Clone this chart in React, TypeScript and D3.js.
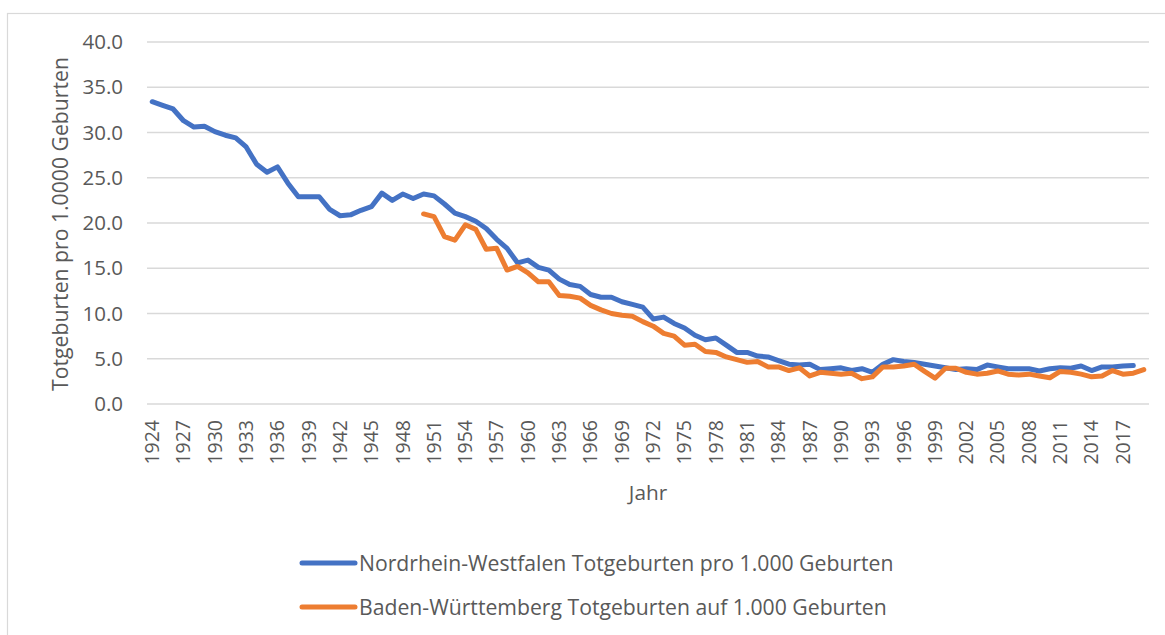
import React from "react";
import * as d3 from "d3";

const years: number[] = d3.range(1924, 2020);

const nrwValues: (number | null)[] = [
  33.4, 33.0, 32.6, 31.3, 30.6, 30.7, 30.1, 29.7, 29.4, 28.4,
  26.5, 25.6, 26.2, 24.4, 22.9, 22.9, 22.9, 21.5, 20.8, 20.9,
  21.4, 21.8, 23.3, 22.5, 23.2, 22.7, 23.2, 23.0, 22.1, 21.1,
  20.7, 20.2, 19.4, 18.2, 17.2, 15.6, 15.9, 15.1, 14.8, 13.8,
  13.2, 13.0, 12.1, 11.8, 11.8, 11.3, 11.0, 10.7, 9.4, 9.6,
  8.9, 8.4, 7.6, 7.1, 7.3, 6.5, 5.7, 5.7, 5.3, 5.2,
  4.8, 4.4, 4.3, 4.4, 3.8, 3.9, 4.0, 3.7, 3.9, 3.5,
  4.4, 4.9, 4.7, 4.6, 4.4, 4.2, 4.0, 3.8, 3.9, 3.8,
  4.3, 4.1, 3.9, 3.9, 3.9, 3.65, 3.9, 4.0, 3.95, 4.2,
  3.7, 4.1, 4.1, 4.2, 4.25, null,
];

const bwValues: (number | null)[] = [
  null, null, null, null, null, null, null, null, null, null,
  null, null, null, null, null, null, null, null, null, null,
  null, null, null, null, null, null, 21.0, 20.7, 18.5, 18.1,
  19.8, 19.3, 17.1, 17.2, 14.8, 15.2, 14.5, 13.5, 13.5, 12.0,
  11.9, 11.7, 10.9, 10.4, 10.0, 9.8, 9.7, 9.1, 8.6, 7.8,
  7.5, 6.5, 6.6, 5.8, 5.7, 5.2, 4.9, 4.6, 4.7, 4.1,
  4.1, 3.7, 4.0, 3.1, 3.5, 3.4, 3.3, 3.4, 2.8, 3.0,
  4.1, 4.1, 4.2, 4.4, 3.6, 2.85, 3.95, 3.95, 3.5, 3.3,
  3.4, 3.65, 3.3, 3.2, 3.3, 3.1, 2.9, 3.6, 3.5, 3.3,
  3.0, 3.1, 3.7, 3.3, 3.4, 3.8,
];

const yTicks: number[] = [0, 5, 10, 15, 20, 25, 30, 35, 40];
const xTickYears: number[] = d3.range(1924, 2020, 3);

const seriesNames: string[] = [
  "Nordrhein-Westfalen Totgeburten pro 1.000 Geburten",
  "Baden-Württemberg Totgeburten auf 1.000 Geburten",
];
const seriesColors: string[] = ["#4472C4", "#ED7D31"];

const W = 1165;
const H = 635;
const FONT = "'Open Sans', sans-serif";
const TXT = "#595959";

export default function App() {
  const plotLeft = 147;
  const plotRight = 1149;
  const plotTop = 42;
  const plotBottom = 404;

  const x = d3
    .scaleBand<number>()
    .domain(years)
    .range([plotLeft, plotRight])
    .padding(0);
  const cx = (yr: number) => (x(yr) as number) + x.bandwidth() / 2;
  const y = d3.scaleLinear().domain([0, 40]).range([plotBottom, plotTop]);

  const line = d3
    .line<[number, number | null]>()
    .defined((d) => d[1] != null)
    .x((d) => cx(d[0]))
    .y((d) => y(d[1] as number));

  const series = [nrwValues, bwValues];

  return (
    <svg
      width={W}
      height={H}
      style={{ position: "absolute", left: 0, top: 0, background: "#fff" }}
      fontFamily={FONT}
    >
      <rect x={0} y={0} width={W} height={H} fill="#fff" />
      <rect
        x={7.5}
        y={13.5}
        width={W + 20}
        height={H + 20}
        fill="none"
        stroke="#d9d9d9"
        strokeWidth={1.2}
      />
      {yTicks.map((t) => (
        <g key={t}>
          <line
            x1={plotLeft}
            x2={plotRight}
            y1={y(t)}
            y2={y(t)}
            stroke="#d9d9d9"
            strokeWidth={1.5}
          />
          <text
            x={123}
            y={y(t)}
            dy="0.35em"
            textAnchor="end"
            fontSize={20.5}
            fill={TXT}
          >
            {t.toFixed(1)}
          </text>
        </g>
      ))}
      {xTickYears.map((yr) => (
        <text
          key={yr}
          transform={`translate(${cx(yr)},${420}) rotate(-90)`}
          textAnchor="end"
          dy="0.35em"
          fontSize={19.5}
          fill={TXT}
        >
          {yr}
        </text>
      ))}
      {series.map((vals, i) => (
        <path
          key={i}
          d={line(years.map((yr, j) => [yr, vals[j]])) || ""}
          fill="none"
          stroke={seriesColors[i]}
          strokeWidth={5}
          strokeLinejoin="round"
          strokeLinecap="round"
        />
      ))}
      <text
        transform={`translate(68,${(plotTop + plotBottom) / 2 + 1}) rotate(-90)`}
        textAnchor="middle"
        fontSize={21.2}
        fill={TXT}
      >
        Totgeburten pro 1.0000 Geburten
      </text>
      <text
        x={(plotLeft + plotRight) / 2}
        y={500}
        textAnchor="middle"
        fontSize={20.8}
        fill={TXT}
      >
        Jahr
      </text>
      {seriesNames.map((name, i) => (
        <g key={name}>
          <line
            x1={302}
            x2={355}
            y1={563 + i * 44}
            y2={563 + i * 44}
            stroke={seriesColors[i]}
            strokeWidth={5}
            strokeLinecap="round"
          />
          <text x={359} y={570.5 + i * 44} fontSize={21.2} fill={TXT}>
            {name}
          </text>
        </g>
      ))}
    </svg>
  );
}
